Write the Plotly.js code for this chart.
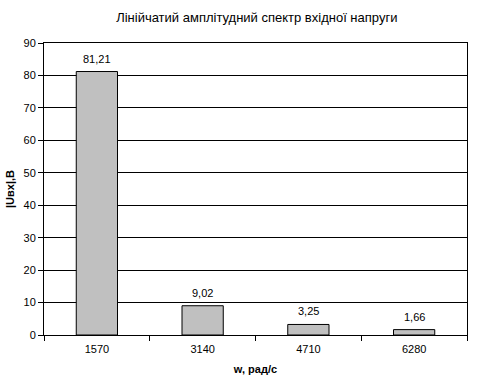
<!DOCTYPE html>
<html>
<head>
<meta charset="utf-8">
<script src="https://cdn.plot.ly/plotly-3.0.1.min.js"></script>
<style>html,body{margin:0;padding:0;background:#fff;}#chart{width:480px;height:384px;}</style>
</head>
<body>
<div id="chart"></div>
<script>
const categories = ["1570", "3140", "4710", "6280"];
const amplitudes = [81.21, 9.02, 3.25, 1.66];
const chartTitle = "Лінійчатий амплітудний спектр вхідної напруги";
const xTitle = "w, рад/с";
const yTitle = "|Uвх|,В";

const labels = amplitudes.map(v => v.toFixed(2).replace('.', ','));
const font = "Liberation Sans, Arial, sans-serif";

const annotations = categories.map((c, i) => ({
  x: i, y: amplitudes[i], xref: 'x', yref: 'y',
  text: labels[i], showarrow: false,
  yanchor: 'bottom', yshift: 5,
  font: {family: font, size: 11, color: '#000'}
}));

Plotly.newPlot('chart', [{
  type: 'bar',
  x: categories,
  y: amplitudes,
  marker: {color: '#c0c0c0', line: {color: '#000', width: 1}},
  hoverinfo: 'none'
}], {
  width: 480, height: 384,
  margin: {l: 44, r: 13, t: 43, b: 49},
  paper_bgcolor: '#fff', plot_bgcolor: '#fff',
  bargap: 0.61,
  showlegend: false,
  annotations: annotations,
  font: {family: font, size: 11, color: '#000'},
  title: {text: chartTitle, font: {family: font, size: 13, color: '#000'}, x: 0.535, xanchor: 'center', y: 0.955, yanchor: 'middle'},
  xaxis: {
    type: 'category',
    categoryarray: categories, categoryorder: 'array',
    range: [-0.5, categories.length - 0.5],
    title: {text: '<b>' + xTitle + '</b>', font: {family: font, size: 11}, standoff: 11},
    showline: true, linecolor: '#000', linewidth: 1, mirror: true,
    ticks: 'outside', tickson: 'boundaries', ticklen: 5, tickcolor: '#000',
    ticklabelstandoff: 4,
    showgrid: false, zeroline: false,
    tickfont: {family: font, size: 11}
  },
  yaxis: {
    range: [0, 90], dtick: 10,
    title: {text: '<b>' + yTitle + '</b>', font: {family: font, size: 11}, standoff: 6},
    showline: true, linecolor: '#000', linewidth: 1, mirror: true,
    ticks: 'outside', ticklen: 5, tickcolor: '#000',
    showgrid: true, gridcolor: '#000', gridwidth: 1, zeroline: false,
    tickfont: {family: font, size: 11}
  }
}, {staticPlot: true});
</script>
</body>
</html>
